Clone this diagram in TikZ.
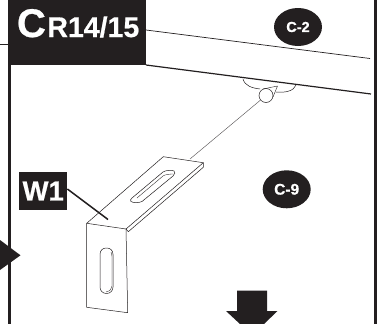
\documentclass[tikz,border=0pt]{standalone}
\usepackage{fontspec}
\setmainfont{Liberation Sans}[BoldFont={Liberation Sans Bold},BoldFeatures={FakeBold=0.6}]
\definecolor{ink}{HTML}{231F20}
\usetikzlibrary{shapes.geometric}
\tikzset{
  badge/.style={ellipse,fill=ink,text=white,inner sep=0pt,minimum width=48pt,minimum height=38pt,font=\bfseries\fontsize{15.5}{15.5}\selectfont},
  part/.style={draw=ink,line width=0.5pt,line join=round},
  frameline/.style={draw=ink,line width=2.6pt},
  beam/.style={draw=ink},
  tag/.style={fill=ink,text=white,inner sep=0pt,font=\bfseries}
}
\begin{document}
\begin{tikzpicture}[x=1pt,y=-1pt]
\useasboundingbox (0,0) rectangle (383,324);
\fill[white] (0,0) rectangle (383,324);
% frame
\draw[frameline] (9.4,60) -- (9.4,324);
\draw[frameline] (375.5,0) -- (375.5,324);
\draw[ink,line width=0.7pt] (0,44.5) -- (10,44.5);
% title
\fill[ink] (8,0) rectangle (146,65);
\node[tag,fill=none,anchor=base west] (title) at (16.8,37) {\fontsize{40}{40}\selectfont C\kern1.5pt\fontsize{28.5}{28.5}\selectfont R14/15};
% beam
\coordinate (bt1) at (146,30); \coordinate (bt2) at (370,58.5);
\coordinate (bb1) at (146,65); \coordinate (bb2) at (371,94);
\draw[beam,line width=0.7pt] (bt1) -- (bt2);
\draw[beam,line width=1.2pt] (bb1) -- (bb2);
% clip bracket
\draw[part] (243,79) .. controls (245,86) and (252,88) .. (260,89);
\draw[part] (276,92) .. controls (285,93) and (294,91) .. (296,85);
\node[circle,draw=ink,line width=0.5pt,minimum size=14pt,inner sep=0pt] (eye) at (266,95.5) {};
\draw[part,line width=0.4pt] (263,89) -- (277.5,86) -- (273,97);
% wire
\coordinate (wireend) at (190,159);
\draw[draw=ink!75,line width=0.45pt] (eye) -- (wireend);
% L bracket
\coordinate (a) at (86.7,223.3);
\coordinate (b) at (126,229);
\coordinate (c) at (127.7,312.7);
\coordinate (d) at (86.7,307.3);
\coordinate (e) at (163.3,156.7);
\coordinate (f) at (203.3,162.7);
\coordinate (g) at (203.3,167.3);
\coordinate (h) at (128.3,231.7);
\draw[part] (a) -- (b) -- (c) -- (d) -- cycle;
\draw[part] (a) -- (e) -- (f) -- (b);
\draw[part] (f) -- (g) -- (h) -- (b);
% top slot
\draw[part] (132,198) -- (163,172) .. controls (166,170) and (172,170) .. (174,171) .. controls (175.5,172) and (175,174) .. (173,176) -- (142,201.5) .. controls (139,203) and (133,203) .. (131,201.5) .. controls (130,200.5) and (130.5,199) .. (132,198) -- cycle;
\draw[part,line width=0.35pt] (137,198) -- (163,176) .. controls (165,174.5) and (170,174) .. (173,174);
% front slot
\draw[part] (100,254.5) .. controls (100,250) and (103,248) .. (106.5,248) .. controls (110,248) and (113,250) .. (113,254.5) -- (113,287) .. controls (113,291) and (110,293.5) .. (106.5,293.5) .. controls (103,293.5) and (100,291) .. (100,287) -- cycle;
\draw[part,line width=0.35pt] (111,252) .. controls (112,254) and (112,256) .. (112,258) -- (112,286) .. controls (112,289) and (110,291) .. (106,292);
% W1
\node[tag,minimum width=48pt,minimum height=38pt,font=\bfseries\fontsize{27.5}{27.5}\selectfont] (w1) at (43.2,191) {W1};
\coordinate (w1tip) at (108,219.5);
\draw[ink,line width=1.5pt] (w1.east) ++(0,-2) -- (w1tip);
% badges
\node[badge,font=\bfseries\fontsize{14.5}{14.5}\selectfont] (c2) at (298,27) {C-2};
\node[badge] (c9) at (286.7,189.3) {C-9};
% arrows
\fill[ink] (0,240) -- (20.5,255.3) -- (0,270) -- cycle;
\fill[ink] (237,290.7) -- (267,290.7) -- (267,311) -- (277.5,311) -- (264,324) -- (240,324) -- (226,311) -- (237,311) -- cycle;
\end{tikzpicture}
\end{document}
